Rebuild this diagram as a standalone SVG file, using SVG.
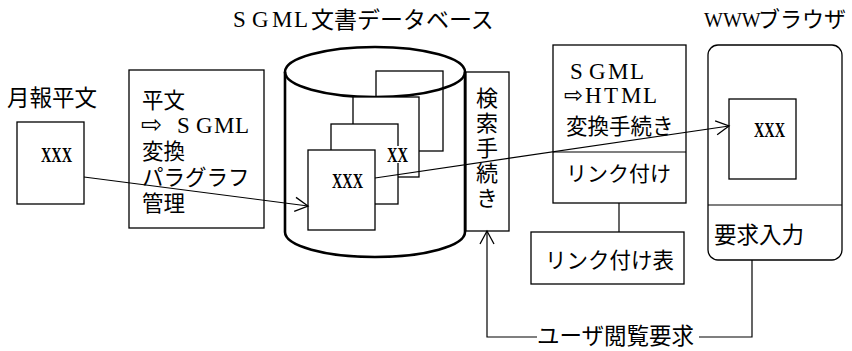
<svg xmlns="http://www.w3.org/2000/svg" width="852" height="351" viewBox="0 0 852 351">
<style>
.bx{fill:#fff;stroke:#000;stroke-width:1.3}
.cyl{fill:none;stroke:#000;stroke-width:2.6}
.ln{fill:none;stroke:#000;stroke-width:1.2}
.jp{font-family:"Noto Sans CJK JP","DejaVu Sans",sans-serif;fill:#000}
.arw{font-family:"DejaVu Sans",sans-serif;fill:#000}
.lat{font-family:"Liberation Serif","Noto Sans CJK JP",serif;fill:#000}
.xxx{font-family:"Liberation Serif",serif;font-weight:bold;font-size:21px;fill:#000}
</style>
<defs>
<marker id="arr" markerUnits="userSpaceOnUse" markerWidth="16" markerHeight="18" viewBox="0 0 16 18" refX="14" refY="9" orient="auto">
<path d="M1,2 L14,9 L1,16" fill="none" stroke="#000" stroke-width="1.3"/>
</marker>
</defs>
<rect width="852" height="351" fill="#fff"/>

<g id="title-db">
<text class="lat" font-size="23" y="27"><tspan x="233 252 272 294">SGML</tspan></text>
<text class="jp" font-size="23" x="311" y="28">文書データベース</text>
</g>
<g id="title-browser">
<text class="lat" font-size="20" x="704" y="27">WWW</text>
<text class="jp" font-size="22" x="758" y="27">ブラウザ</text>
</g>

<g id="source">
<text class="jp" font-size="22.5" x="7" y="106">月報平文</text>
<rect class="bx" x="17" y="122" width="67" height="82"/>
<text class="xxx" x="41" y="162" textLength="31" lengthAdjust="spacingAndGlyphs">XXX</text>
</g>

<g id="convert">
<rect class="bx" x="129" y="70" width="135" height="158"/>
<text class="jp" font-size="21.5"><tspan x="142" y="108">平文</tspan><tspan class="arw" font-size="25" x="141" y="133">⇨</tspan><tspan class="lat" font-size="23" x="177 196 214 235" y="133">SGML</tspan><tspan x="142" y="159">変換</tspan><tspan x="142" y="185">パラグラフ</tspan><tspan x="142" y="211">管理</tspan></text>
</g>

<g id="database">
<path class="cyl" d="M285,72 L285,232 A90,25 0 0 0 465,232 L465,72"/>
<rect class="bx" x="376" y="71" width="67" height="80"/>
<ellipse class="cyl" cx="375" cy="72" rx="90" ry="25"/>
<rect class="bx" x="353" y="97" width="66" height="80"/>
<rect class="bx" x="331" y="124" width="67" height="80"/>
<rect x="386" y="146" width="23" height="17" fill="#fff"/>
<text class="xxx" x="387" y="162" textLength="21" lengthAdjust="spacingAndGlyphs">XX</text>
<rect class="bx" x="308" y="150" width="67" height="80"/>
<text class="xxx" x="332" y="188" textLength="31" lengthAdjust="spacingAndGlyphs">XXX</text>
</g>

<g id="search">
<rect class="bx" x="466" y="72" width="43" height="159"/>
<text class="jp" font-size="22" x="487" y="87" writing-mode="tb" style="writing-mode:vertical-rl" letter-spacing="3">検索手続き</text>
</g>

<g id="html-convert">
<rect class="bx" x="553" y="45" width="133" height="158"/>
<line class="ln" x1="553" y1="152" x2="686" y2="152"/>
<text class="lat" font-size="23"><tspan x="570 589 608 630" y="79">SGML</tspan><tspan class="arw" font-size="23" x="564" y="103">⇨</tspan><tspan x="585 604 621 643" y="103">HTML</tspan></text>
<text class="jp" font-size="21.5" x="566" y="134">変換手続き</text>
<text class="jp" font-size="21" x="566" y="181">リンク付け</text>
</g>

<g id="link-table">
<rect class="bx" x="531" y="232" width="153" height="52"/>
<text class="jp" font-size="21.5" x="545" y="268">リンク付け表</text>
</g>

<g id="browser">
<rect class="bx" x="708" y="45" width="134" height="215" rx="10" ry="10"/>
<line class="ln" x1="708" y1="205" x2="842" y2="205"/>
<rect class="bx" x="729" y="99" width="67" height="80"/>
<text class="xxx" x="754" y="137" textLength="31" lengthAdjust="spacingAndGlyphs">XXX</text>
<text class="jp" font-size="22.5" x="714" y="243">要求入力</text>
</g>

<g id="connectors">
<line class="ln" x1="84" y1="177" x2="308" y2="206" marker-end="url(#arr)"/>
<line class="ln" x1="375" y1="178" x2="729" y2="126" marker-end="url(#arr)"/>
<line class="ln" x1="619" y1="203" x2="619" y2="232"/>
<path class="ln" d="M752,260 L752,337 L487,337 L487,231" marker-end="url(#arr)"/>
<rect x="537" y="326" width="162" height="22" fill="#fff"/>
<text class="jp" font-size="22.5" x="537" y="344">ユーザ閲覧要求</text>
</g>
</svg>
